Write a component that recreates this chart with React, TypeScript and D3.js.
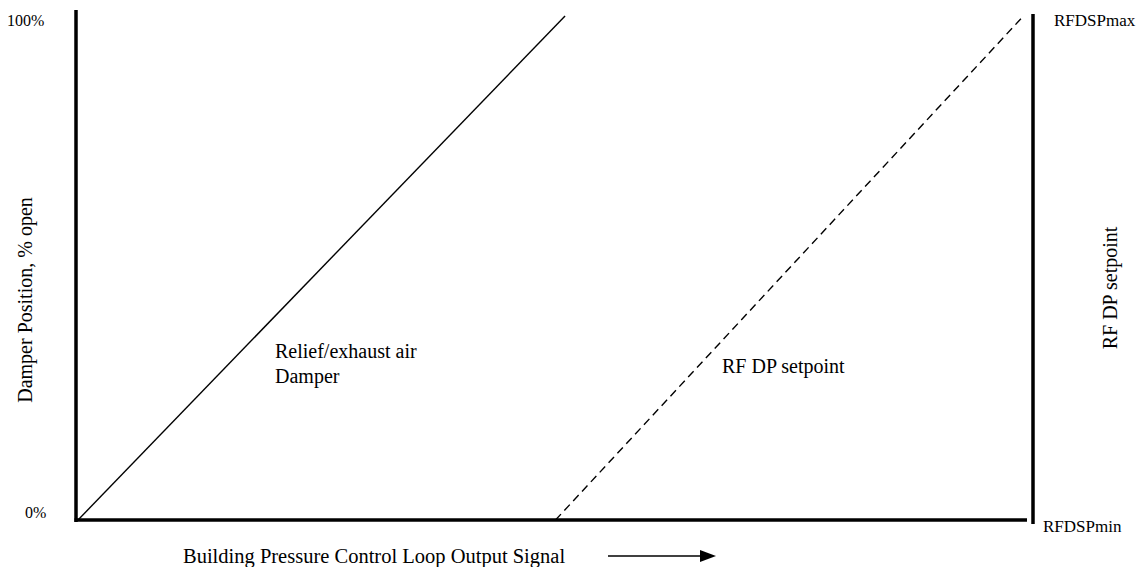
import * as d3 from "d3";
import { useEffect, useRef } from "react";

// loop output signal (%) vs position / setpoint (%)
const damperX = [0, 51];
const damperY = [0, 100];
const setpointX = [50, 99];
const setpointY = [0, 100];
const yTicks = ["0%", "100%"];
const rightTicks = ["RFDSPmin", "RFDSPmax"];

const W = 1138;
const H = 567;
const FONT = "Liberation Serif, Times New Roman, DejaVu Serif, serif";

const App = () => {
  const ref = useRef<SVGSVGElement | null>(null);

  useEffect(() => {
    if (!ref.current) return;
    const svg = d3.select(ref.current);
    svg.selectAll("*").remove();

    const x = d3.scaleLinear().domain([0, 100]).range([78, 1033]);
    const y = d3.scaleLinear().domain([0, 100]).range([520, 16]);

    svg.append("rect").attr("width", W).attr("height", H).attr("fill", "#fff");

    const line = d3
      .line<[number, number]>()
      .x((d) => x(d[0]))
      .y((d) => y(d[1]));

    // axes frame
    svg
      .append("line")
      .attr("x1", x(0) - 2)
      .attr("x2", x(0) - 2)
      .attr("y1", y(100) - 6)
      .attr("y2", y(0) + 2)
      .attr("stroke", "#000")
      .attr("stroke-width", 3.5);
    svg
      .append("line")
      .attr("x1", x(0) - 3.5)
      .attr("x2", x(100) - 6)
      .attr("y1", y(0))
      .attr("y2", y(0))
      .attr("stroke", "#000")
      .attr("stroke-width", 3.5);
    svg
      .append("line")
      .attr("x1", x(100))
      .attr("x2", x(100))
      .attr("y1", y(100) - 2)
      .attr("y2", y(0) + 4)
      .attr("stroke", "#000")
      .attr("stroke-width", 3.5);

    const damper = damperX.map((v, i) => [v, damperY[i]] as [number, number]);
    const setpoint = setpointX.map((v, i) => [v, setpointY[i]] as [number, number]);

    svg
      .append("path")
      .attr("d", line(damper))
      .attr("fill", "none")
      .attr("stroke", "#000")
      .attr("stroke-width", 1.4);
    svg
      .append("path")
      .attr("d", line(setpoint))
      .attr("fill", "none")
      .attr("stroke", "#000")
      .attr("stroke-width", 1.4)
      .attr("stroke-dasharray", "8,5");

    const txt = (
      s: string,
      tx: number,
      ty: number,
      size: number,
      anchor = "start",
      rotate = 0
    ) =>
      svg
        .append("text")
        .attr("transform", `translate(${tx},${ty}) rotate(${rotate})`)
        .attr("text-anchor", anchor)
        .style("font-family", FONT)
        .style("font-size", `${size}px`)
        .attr("fill", "#000")
        .text(s);

    // left ticks
    txt(yTicks[1], 7, y(100) + 10, 16);
    txt(yTicks[0], 25, y(0) - 2, 16);
    // right ticks
    txt(rightTicks[1], x(100) + 21, y(100) + 10, 17);
    txt(rightTicks[0], x(100) + 10, y(0) + 12, 17);

    // annotations
    txt("Relief/exhaust air", 275, 358, 20);
    txt("Damper", 275, 383, 20);
    txt("RF DP setpoint", 722, 373, 20);

    // axis titles
    txt("Damper Position, % open", 32, 300, 20, "middle", -90);
    txt("RF DP setpoint", 1117, 288, 20, "middle", -90);
    txt("Building Pressure Control Loop Output Signal", 183, 563, 20.5);

    // arrow
    svg
      .append("line")
      .attr("x1", 608)
      .attr("x2", 702)
      .attr("y1", 556)
      .attr("y2", 556)
      .attr("stroke", "#000")
      .attr("stroke-width", 1.5);
    svg
      .append("path")
      .attr("d", "M700,550 L716,556 L700,562 Z")
      .attr("fill", "#000");
  }, []);

  return (
    <svg
      ref={ref}
      width={W}
      height={H}
      style={{ position: "absolute", left: 0, top: 0, display: "block" }}
    />
  );
};

export default App;
